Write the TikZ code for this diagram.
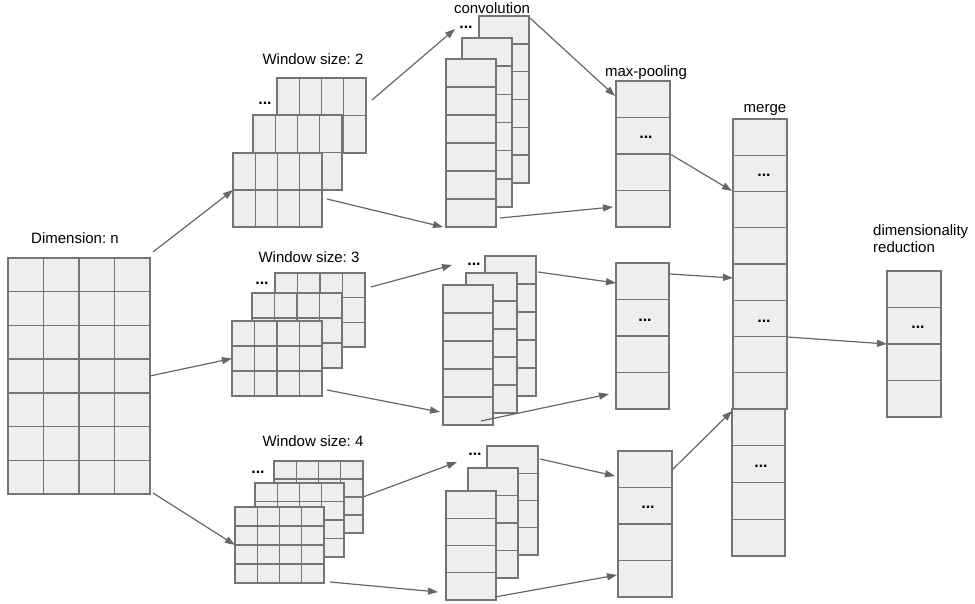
\documentclass[tikz,border=0pt]{standalone}
\usepackage{fontspec}
\setmainfont{Liberation Sans}
\usetikzlibrary{calc,arrows.meta}
\definecolor{blkfill}{HTML}{EEEEEE}
\definecolor{blkdraw}{HTML}{757575}
\definecolor{arrc}{HTML}{666666}
\frenchspacing
\tikzset{
 blk/.style={draw=blkdraw, fill=blkfill, line width=1.4pt, inner sep=0pt, outer sep=0pt, anchor=north west},
 blkline/.style={draw=blkdraw, line width=1.4pt},
 conn/.style={draw=arrc, line width=1.2pt, -{Triangle[length=10pt,width=7pt]}},
 lbl/.style={font=\fontsize{15}{17}\selectfont, anchor=base, inner sep=0pt},
 dotsnode/.style={font=\fontsize{16}{18}\selectfont\bfseries, inner sep=0pt},
}
% name, x, y, w, h, cols, rows
\newcommand\gridblk[7]{%
 \node[blk, minimum width=#4pt, minimum height=#5pt] (#1) at (#2,#3) {};
 \pgfmathtruncatemacro\gbnc{#6-1}%
 \pgfmathtruncatemacro\gbnr{#7-1}%
 \ifnum\gbnc>0
  \foreach \i in {1,...,\gbnc} {\draw[blkline] ($(#1.north west)!\i/#6!(#1.north east)$) -- ($(#1.south west)!\i/#6!(#1.south east)$);}
 \fi
 \ifnum\gbnr>0
  \foreach \j in {1,...,\gbnr} {\draw[blkline] ($(#1.north west)!\j/#7!(#1.south west)$) -- ($(#1.north east)!\j/#7!(#1.south east)$);}
 \fi
}
\begin{document}
\begin{tikzpicture}[x=1pt,y=-1pt]
\useasboundingbox (0,0) rectangle (975,604);

% input matrix
\gridblk{grid}{8}{258}{142}{236}{4}{7}
\node[lbl] (tgrid) at (75,244) {Dimension: n};

% window size 2
\gridblk{w2b}{277}{78}{89}{75}{4}{2}
\gridblk{w2m}{253}{115}{89}{75}{4}{2}
\gridblk{w2f}{233}{153}{89}{74}{4}{2}
\node[lbl] (tw2) at (313,65) {Window size: 2};
\node[dotsnode] (dw2) at (265,103) {...};

% window size 3
\gridblk{w3b}{275}{273}{90}{74}{4}{3}
\gridblk{w3m}{252}{293}{90}{75}{4}{3}
\gridblk{w3f}{232}{321}{90}{75}{4}{3}
\node[lbl] (tw3) at (309,262) {Window size: 3};
\node[dotsnode] (dw3) at (262,283) {...};

% window size 4
\gridblk{w4b}{274}{461}{89}{72}{4}{4}
\gridblk{w4m}{255}{483}{89}{74}{4}{4}
\gridblk{w4f}{235}{507}{89}{76}{4}{4}
\node[lbl] (tw4) at (313,446) {Window size: 4};
\node[dotsnode] (dw4) at (258,472) {...};

% convolution
\gridblk{c1b}{479}{16}{50}{167}{1}{6}
\gridblk{c1m}{462}{38}{50}{169}{1}{6}
\gridblk{c1f}{446}{59}{50}{168}{1}{6}
\node[lbl] (tconv) at (492,14) {convolution};
\node[dotsnode] (dc1) at (466,27) {...};

\gridblk{c2b}{485}{256}{51}{140}{1}{5}
\gridblk{c2m}{466}{273}{51}{140}{1}{5}
\gridblk{c2f}{443}{285}{50}{140}{1}{5}
\node[dotsnode] (dc2) at (474,264) {...};

\gridblk{c3b}{487}{446}{51}{109}{1}{4}
\gridblk{c3m}{468}{468}{50}{110}{1}{4}
\gridblk{c3f}{446}{491}{50}{109}{1}{4}
\node[dotsnode] (dc3) at (475,454) {...};

% max-pooling
\gridblk{p1}{616}{81}{54}{146}{1}{4}
\gridblk{p2}{616}{263}{53}{146}{1}{4}
\gridblk{p3}{618}{451}{54}{146}{1}{4}
\node[lbl] (tpool) at (646,77) {max-pooling};
\node[dotsnode] (dp1) at (646,137) {...};
\node[dotsnode] (dp2) at (645,320) {...};
\node[dotsnode] (dp3) at (648,507) {...};

% merge
\gridblk{mg1}{733}{119}{54}{290}{1}{8}
\gridblk{mg2}{732}{409}{53}{147}{1}{4}
\node[lbl] (tmerge) at (765,113) {merge};
\node[dotsnode] (dm1) at (764,175) {...};
\node[dotsnode] (dm2) at (764,321) {...};
\node[dotsnode] (dm3) at (761,466) {...};

% dimensionality reduction
\gridblk{dr}{887}{271}{54}{146}{1}{4}
\node[lbl, anchor=base west] (tdr1) at (873,236) {dimensionality};
\node[lbl, anchor=base west] (tdr2) at (873,253) {reduction};
\node[dotsnode] (ddr) at (918,327) {...};

% connectors
\draw[conn] ([shift={(3,-6)}]grid.north east) -- (w2f.west);
\draw[conn] (grid.east) -- (w3f.west);
\draw[conn] ([shift={(3,-1)}]grid.south east) -- (w4f.west);

\draw[conn] ([shift={(6,-15.5)}]w2b.east) -- ([shift={(-24,13)}]c1b.north west);
\draw[conn] ([shift={(5,9)}]w2f.east) -- ([shift={(-3,0)}]c1f.south west);
\draw[conn] ([shift={(6,-23)}]w3b.east) -- ([shift={(-33,9)}]c2b.north west);
\draw[conn] ([shift={(5,31.5)}]w3f.east) -- ([shift={(-3,-13)}]c2f.south west);
\draw[conn] (w4b.east) -- ([shift={(-30,16)}]c3b.north west);
\draw[conn] ([shift={(6,-1)}]w4f.south east) -- ([shift={(-8,-8)}]c3f.south west);

\draw[conn] ([shift={(1,2)}]c1b.north east) -- ([shift={(-1,15)}]p1.north west);
\draw[conn] ([shift={(4,-9)}]c1f.south east) -- ([shift={(-3,-20)}]p1.south west);
\draw[conn] ([shift={(2,16)}]c2b.north east) -- ([shift={(0,20)}]p2.north west);
\draw[conn] ([shift={(-12,-4)}]c2f.south east) -- ([shift={(-7,-15)}]p2.south west);
\draw[conn] ([shift={(2,13)}]c3b.north east) -- ([shift={(-3,25)}]p3.north west);
\draw[conn] ([shift={(-1,-3)}]c3f.south east) -- ([shift={(-1,-22)}]p3.south west);

\draw[conn] (p1.east) -- ([shift={(-1,72)}]mg1.north west);
\draw[conn] ([shift={(1,11)}]p2.north east) -- ([shift={(0,159)}]mg1.north west);
\draw[conn] ([shift={(0,19)}]p3.north east) -- ([shift={(0,2)}]mg2.north west);

\draw[conn] ([shift={(0,73)}]mg1.east) -- (dr.west);
\end{tikzpicture}
\end{document}
